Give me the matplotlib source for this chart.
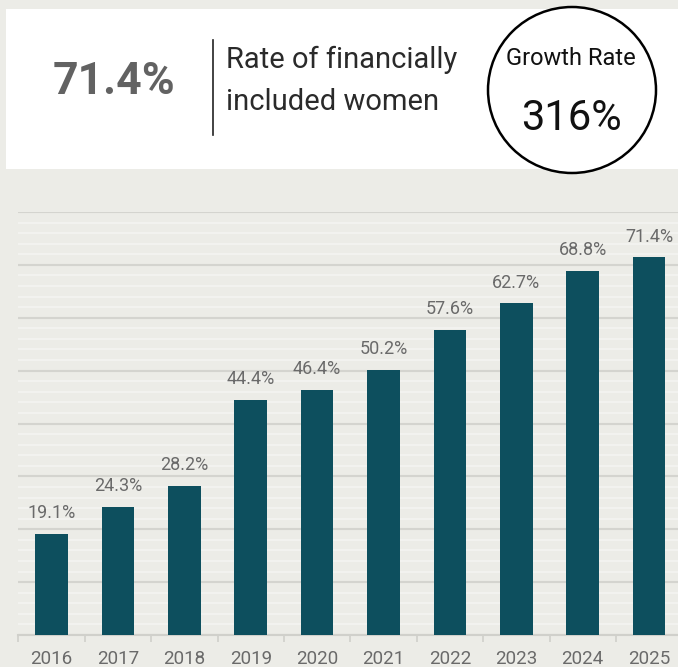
import matplotlib as mpl
import matplotlib.pyplot as plt
import numpy as np
from matplotlib.patches import Rectangle, Ellipse

years = ["2016", "2017", "2018", "2019", "2020", "2021", "2022", "2023", "2024", "2025"]
rates = [19.1, 24.3, 28.2, 44.4, 46.4, 50.2, 57.6, 62.7, 68.8, 71.4]
headline_value = "71.4%"
headline_text = ["Rate of financially", "included women"]
growth_title = "Growth Rate"
growth_value = "316%"

W, H = 678, 667
bg = "#ECECE7"
bar_color = "#0D4F5E"

plt.rcParams["font.family"] = ["Roboto", "DejaVu Sans"]

fig = plt.figure(figsize=(W / 100, H / 100), dpi=100, facecolor=bg)


def fx(x):
    return x / W


def fy(y):
    return 1 - y / H


# header card
fig.patches.append(Rectangle((fx(6), fy(169)), fx(672), (169 - 9) / H,
                             transform=fig.transFigure, facecolor="white",
                             edgecolor="none", zorder=0))
fig.lines.append(plt.Line2D([fx(213), fx(213)], [fy(40), fy(135)],
                            transform=fig.transFigure, color="#222222", lw=1.2))
fig.patches.append(Ellipse((fx(572), fy(90)), 168 / W, 166 / H,
                           transform=fig.transFigure, facecolor="white",
                           edgecolor="black", lw=1.8, zorder=2))

fig.text(fx(114), fy(94), headline_value, ha="center", va="baseline",
         fontsize=32, fontweight="bold", color="#626262")
fig.text(fx(226), fy(68), headline_text[0], ha="left", va="baseline",
         fontsize=21, color="#2a2a2a")
fig.text(fx(226), fy(110), headline_text[1], ha="left", va="baseline",
         fontsize=21, color="#2a2a2a")
fig.text(fx(571), fy(65), growth_title, ha="center", va="baseline",
         fontsize=17, color="#111111", zorder=3)
fig.text(fx(571), fy(130), growth_value, ha="center", va="baseline",
         fontsize=30, color="#111111", zorder=3)

# bar chart
ax = fig.add_axes([fx(18.3), fy(635), (682.3 - 18.3) / W, (635 - 212) / H])
ax.set_facecolor(bg)
x = np.arange(len(years))
ax.bar(x, rates, width=0.49, color=bar_color, zorder=3)

for xi, v in zip(x, rates):
    ax.annotate(f"{v:.1f}%", (xi, v), xytext=(0, 11.5), textcoords="offset points",
                ha="center", va="baseline", fontsize=13, color="#6a6a6a")

ax.set_xlim(-0.5, len(years) - 0.5)
ax.set_ylim(0, 80)
ax.set_yticks(np.arange(0, 81, 10))
ax.set_yticks(np.arange(0, 81, 2), minor=True)
ax.yaxis.grid(True, which="major", color="#D4D4CF", lw=1.5, zorder=0)
ax.yaxis.grid(True, which="minor", color="#F4F4F1", lw=1.2, zorder=0)
ax.tick_params(axis="y", which="both", left=False, labelleft=False)

ax.set_xticks(x)
ax.set_xticklabels(years)
ax.set_xticks(np.arange(-0.5, len(years), 1), minor=True)
ax.tick_params(axis="x", which="major", length=0, pad=10.5, labelsize=13.5,
               labelcolor="#6a6a6a")
ax.tick_params(axis="x", which="minor", length=5, width=1.2, color="#D0D0CB")

for side in ["top", "right", "left"]:
    ax.spines[side].set_visible(False)
ax.spines["bottom"].set_color("#D0D0CB")
ax.spines["bottom"].set_linewidth(1.5)

fig.savefig("out.png", dpi=100, facecolor=bg)
